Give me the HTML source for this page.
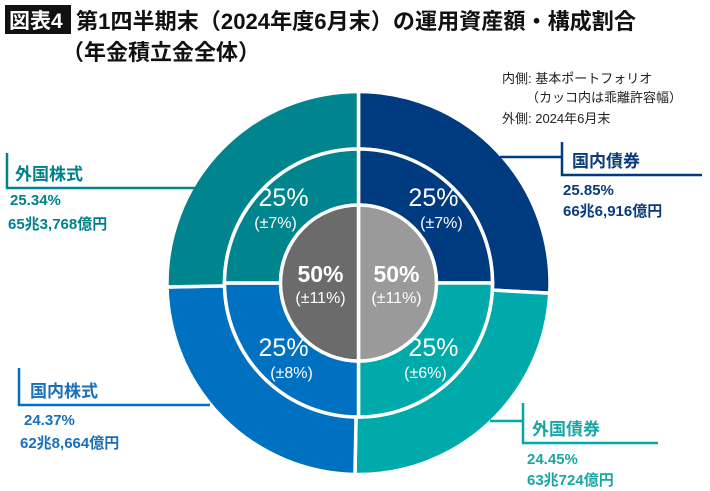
<!DOCTYPE html>
<html><head><meta charset="utf-8">
<style>
body{margin:0;background:#fff;width:710px;height:491px;overflow:hidden}
svg{display:block;font-family:"Liberation Sans","Noto Sans CJK JP",sans-serif}
</style></head><body>
<svg id="chart" width="710" height="491" viewBox="0 0 710 491">
<g>
<rect x="5" y="5" width="66" height="29" fill="#111"/>
<text x="9" y="28" font-size="21" font-weight="bold" fill="#fff">図表4</text>
<text x="76" y="29" font-size="22" font-weight="bold" fill="#111" textLength="560" lengthAdjust="spacingAndGlyphs">第1四半期末（2024年度6月末）の運用資産額・構成割合</text>
<text x="62" y="60" font-size="22" font-weight="bold" fill="#111">（年金積立金全体）</text>
</g>
<g font-size="13" fill="#222">
<text x="502" y="83">内側: 基本ポートフォリオ</text>
<text x="526" y="102">（カッコ内は乖離許容幅）</text>
<text x="502" y="123">外側: 2024年6月末</text>
</g>
<g id="rings"></g>
<g font-weight="bold">
<path d="M7 153V188H195" stroke="#00858f" stroke-width="2.5" fill="none"/>
<text x="15" y="180" font-size="17" fill="#00808a">外国株式</text>
<text x="10" y="205" font-size="15" fill="#00808a">25.34%</text>
<text x="8" y="229" font-size="15" fill="#00808a">65兆3,768億円</text>

<path d="M500 157H562M562 142V175H702" stroke="#003a7f" stroke-width="2.5" fill="none"/>
<text x="572" y="167" font-size="17" fill="#0a3a7a">国内債券</text>
<text x="563" y="195" font-size="15" fill="#0a3a7a">25.85%</text>
<text x="563" y="216" font-size="15" fill="#0a3a7a">66兆6,916億円</text>

<path d="M19 368V405H210" stroke="#0070c0" stroke-width="2.5" fill="none"/>
<text x="30" y="397" font-size="17" fill="#1a6fb8">国内株式</text>
<text x="24" y="425" font-size="15" fill="#1a6fb8">24.37%</text>
<text x="20" y="448" font-size="15" fill="#1a6fb8">62兆8,664億円</text>

<path d="M490 421H523M523 403V443H658" stroke="#00aaaa" stroke-width="2.5" fill="none"/>
<text x="532" y="435" font-size="17" fill="#1aa5a5">外国債券</text>
<text x="527" y="464" font-size="15" fill="#1aa5a5">24.45%</text>
<text x="527" y="485" font-size="15" fill="#1aa5a5">63兆724億円</text>
</g>
</svg>
<script>
const outerNames = ['domestic-bond','foreign-bond','domestic-stock','foreign-stock'];
const outerValues = [25.85, 24.45, 24.37, 25.34];
const middleValues = [25, 25, 25, 25];
const middleLabels = ['25%','25%','25%','25%'];
const middleRanges = ['(±7%)','(±6%)','(±8%)','(±7%)'];
const innerValues = [50, 50];
const innerLabels = ['50%','50%'];
const innerRanges = ['(±11%)','(±11%)'];
const colors = ['#003a7f','#00aaaa','#0070c0','#00858f'];
const innerColors = ['#9a9a9a','#6b6b6b'];
const cx=358.5, cy=283, R0=191.5, R1=134, R2=78;
const NS='http://www.w3.org/2000/svg';
const g=document.getElementById('rings');
function pt(r,a){return [cx+r*Math.sin(a), cy-r*Math.cos(a)];}
function arc(r0,r1,a0,a1){
  const l=(a1-a0)>Math.PI?1:0;
  const [x0,y0]=pt(r1,a0),[x1,y1]=pt(r1,a1),[x2,y2]=pt(r0,a1),[x3,y3]=pt(r0,a0);
  if(r0===0) return `M${cx} ${cy}L${x0} ${y0}A${r1} ${r1} 0 ${l} 1 ${x1} ${y1}Z`;
  return `M${x0} ${y0}A${r1} ${r1} 0 ${l} 1 ${x1} ${y1}L${x2} ${y2}A${r0} ${r0} 0 ${l} 0 ${x3} ${y3}Z`;
}
function ring(vals,r0,r1,cols,name){
  const tot=vals.reduce((a,b)=>a+b,0);let a=0;const mids=[];
  vals.forEach((v,i)=>{
    const a1=a+v/tot*2*Math.PI;
    const p=document.createElementNS(NS,'path');
    p.setAttribute('d',arc(r0,r1,a,a1));
    p.setAttribute('fill',cols[i]);
    p.setAttribute('stroke','#fff');
    p.setAttribute('stroke-width','3.5');
    
    
    g.appendChild(p);mids.push((a+a1)/2);a=a1;
  });
  return mids;
}
function txt(x,y,s,sz,w,name){
  const t=document.createElementNS(NS,'text');
  t.setAttribute('x',x);t.setAttribute('y',y);t.setAttribute('font-size',sz);
  t.setAttribute('font-weight',w);t.setAttribute('fill','#fff');t.setAttribute('text-anchor','middle');
  t.textContent=s;
  
  
  g.appendChild(t);
}
ring(outerValues,R1,R0,colors,'outer');
const mm=ring(middleValues,R2,R1,colors,'middle');
mm.forEach((a,i)=>{const [x,y]=pt(106,a);txt(x,y-2,middleLabels[i],25,'normal','middle-label-'+(i+1));txt(x+(x>cx?8:-8)*(y<cy?1:-1),y+20,middleRanges[i],16,'normal','middle-range-'+(i+1));});
const im=ring(innerValues,0,R2,innerColors,'inner');
im.forEach((a,i)=>{const [x,y]=pt(38,a);txt(x,y-1,innerLabels[i],23,'bold','inner-label-'+(i+1));txt(x,y+20,innerRanges[i],16,'normal','inner-range-'+(i+1));});
</script>
</body></html>
